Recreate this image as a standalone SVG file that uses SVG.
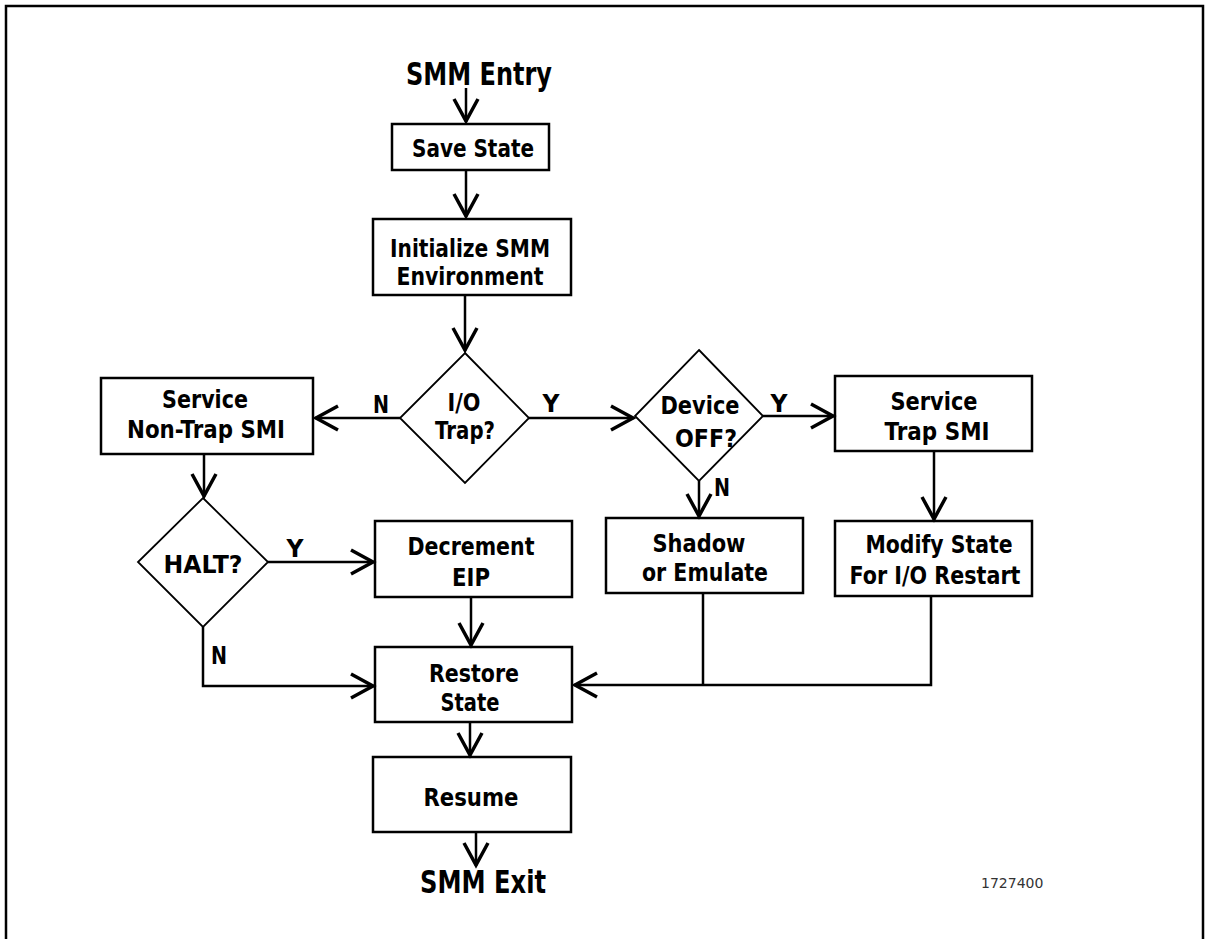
<svg xmlns="http://www.w3.org/2000/svg" width="1206" height="939" viewBox="0 0 1206 939">
  <style>
    .box { fill: #fff; stroke: #000; stroke-width: 2.5; }
    .dia { fill: #fff; stroke: #000; stroke-width: 1.8; }
    .t { font-family: 'DejaVu Sans', sans-serif; font-weight: bold; font-size: 25px; fill: #000; text-anchor: middle; }
    .big { font-size: 32px; }
    .ref { font-family: 'DejaVu Sans', sans-serif; font-size: 14px; fill: #333; }
    .c { fill: none; stroke: #000; stroke-width: 2.5; }
    .head { fill: none; stroke: #000; stroke-width: 3.5; stroke-linejoin: miter; stroke-miterlimit: 10; }
  </style>
  <defs>
    <marker id="arrow" markerUnits="userSpaceOnUse" markerWidth="30" markerHeight="30" viewBox="-26 -15 30 30" refX="0" refY="0" orient="auto" overflow="visible">
      <path class="head" d="M-23,-12 L-1,0 L-23,12"/>
    </marker>
  </defs>

  <rect width="1206" height="939" fill="#fff"/>
  <!-- outer frame, open at the bottom -->
  <path d="M6,945 V6 H1203 V945" fill="none" stroke="#000" stroke-width="2.5"/>

  <!-- condensed bold lettering: glyphs narrowed with textLength -->
  <g id="entry"><text class="t big" x="479" y="85" textLength="146" lengthAdjust="spacingAndGlyphs">SMM Entry</text></g>

  <g id="save-state">
    <rect class="box" x="392" y="124" width="157" height="46"/>
    <text class="t" x="473" y="157" textLength="122" lengthAdjust="spacingAndGlyphs">Save State</text>
  </g>

  <g id="init-env">
    <rect class="box" x="373" y="219" width="198" height="76"/>
    <text class="t" x="470" y="257" textLength="160" lengthAdjust="spacingAndGlyphs">Initialize SMM</text>
    <text class="t" x="470" y="285" textLength="147" lengthAdjust="spacingAndGlyphs">Environment</text>
  </g>

  <g id="io-trap">
    <polygon class="dia" points="465,353 529,418 465,483 400,418"/>
    <text class="t" x="464" y="411" textLength="33" lengthAdjust="spacingAndGlyphs">I/O</text>
    <text class="t" x="465" y="439" textLength="60" lengthAdjust="spacingAndGlyphs">Trap?</text>
  </g>

  <g id="non-trap">
    <rect class="box" x="101" y="378" width="212" height="76"/>
    <text class="t" x="205" y="408" textLength="86" lengthAdjust="spacingAndGlyphs">Service</text>
    <text class="t" x="206" y="438" textLength="158" lengthAdjust="spacingAndGlyphs">Non-Trap SMI</text>
  </g>

  <g id="device-off">
    <polygon class="dia" points="699,350 763,416 699,481 635,416"/>
    <text class="t" x="700" y="414" textLength="79" lengthAdjust="spacingAndGlyphs">Device</text>
    <text class="t" x="706" y="447" textLength="62" lengthAdjust="spacingAndGlyphs">OFF?</text>
  </g>

  <g id="trap-smi">
    <rect class="box" x="835" y="376" width="197" height="75"/>
    <text class="t" x="934" y="410" textLength="87" lengthAdjust="spacingAndGlyphs">Service</text>
    <text class="t" x="937" y="440" textLength="105" lengthAdjust="spacingAndGlyphs">Trap SMI</text>
  </g>

  <g id="shadow">
    <rect class="box" x="606" y="518" width="197" height="75"/>
    <text class="t" x="699" y="552" textLength="93" lengthAdjust="spacingAndGlyphs">Shadow</text>
    <text class="t" x="705" y="581" textLength="126" lengthAdjust="spacingAndGlyphs">or Emulate</text>
  </g>

  <g id="modify">
    <rect class="box" x="835" y="521" width="197" height="75"/>
    <text class="t" x="939" y="553" textLength="147" lengthAdjust="spacingAndGlyphs">Modify State</text>
    <text class="t" x="935" y="584" textLength="171" lengthAdjust="spacingAndGlyphs">For I/O Restart</text>
  </g>

  <g id="halt">
    <polygon class="dia" points="203,498 268,562 203,627 138,562"/>
    <text class="t" x="203" y="573" textLength="79" lengthAdjust="spacingAndGlyphs">HALT?</text>
  </g>

  <g id="decrement">
    <rect class="box" x="375" y="521" width="197" height="76"/>
    <text class="t" x="471" y="555" textLength="127" lengthAdjust="spacingAndGlyphs">Decrement</text>
    <text class="t" x="471" y="586" textLength="38" lengthAdjust="spacingAndGlyphs">EIP</text>
  </g>

  <g id="restore">
    <rect class="box" x="375" y="647" width="197" height="75"/>
    <text class="t" x="474" y="682" textLength="90" lengthAdjust="spacingAndGlyphs">Restore</text>
    <text class="t" x="470" y="711" textLength="59" lengthAdjust="spacingAndGlyphs">State</text>
  </g>

  <g id="resume">
    <rect class="box" x="373" y="757" width="198" height="75"/>
    <text class="t" x="471" y="806" textLength="95" lengthAdjust="spacingAndGlyphs">Resume</text>
  </g>

  <g id="exit"><text class="t big" x="483" y="893" textLength="126" lengthAdjust="spacingAndGlyphs">SMM Exit</text></g>

  <g id="connectors">
    <path class="c" d="M466,88 V122" marker-end="url(#arrow)"/>
    <path class="c" d="M466,170 V217" marker-end="url(#arrow)"/>
    <path class="c" d="M465,295 V351" marker-end="url(#arrow)"/>
    <path class="c" d="M400,418 H315" marker-end="url(#arrow)"/>
    <path class="c" d="M529,418 H634" marker-end="url(#arrow)"/>
    <path class="c" d="M763,416 H834" marker-end="url(#arrow)"/>
    <path class="c" d="M699,481 V517" marker-end="url(#arrow)"/>
    <path class="c" d="M934,451 V520" marker-end="url(#arrow)"/>
    <path class="c" d="M204,454 V497" marker-end="url(#arrow)"/>
    <path class="c" d="M268,562 H374" marker-end="url(#arrow)"/>
    <path class="c" d="M471,597 V646" marker-end="url(#arrow)"/>
    <path class="c" d="M203,627 V686 H374" marker-end="url(#arrow)"/>
    <path class="c" d="M931,596 V685 H574" marker-end="url(#arrow)"/>
    <path class="c" d="M703,593 V685"/>
    <path class="c" d="M470,722 V756" marker-end="url(#arrow)"/>
    <path class="c" d="M476,832 V866" marker-end="url(#arrow)"/>

    <text class="t" x="381" y="413" textLength="16" lengthAdjust="spacingAndGlyphs">N</text>
    <text class="t" x="551" y="412" textLength="17" lengthAdjust="spacingAndGlyphs">Y</text>
    <text class="t" x="779" y="412" textLength="17" lengthAdjust="spacingAndGlyphs">Y</text>
    <text class="t" x="722" y="496" textLength="16" lengthAdjust="spacingAndGlyphs">N</text>
    <text class="t" x="295" y="557" textLength="17" lengthAdjust="spacingAndGlyphs">Y</text>
    <text class="t" x="219" y="664" textLength="16" lengthAdjust="spacingAndGlyphs">N</text>
  </g>

  <text class="ref" x="981" y="888">1727400</text>
</svg>
